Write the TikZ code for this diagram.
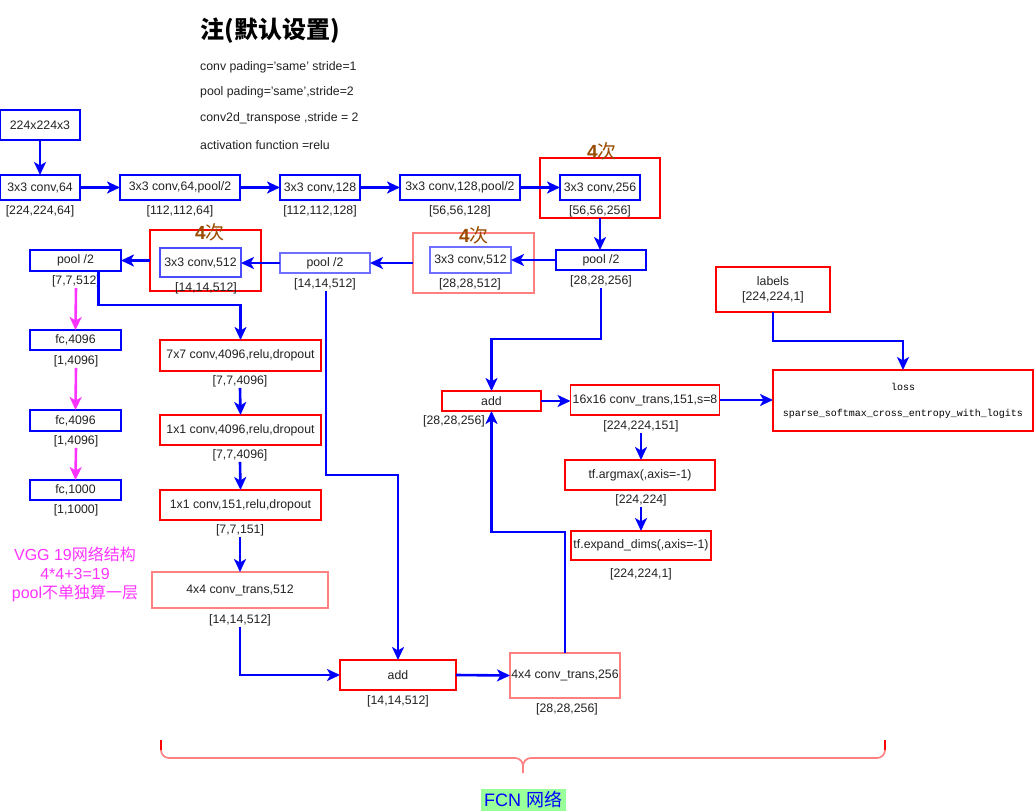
\documentclass[tikz,border=0pt]{standalone}
\usepackage{fontspec}
\setmainfont{Liberation Sans}
\setmonofont{Liberation Mono}
\newfontfamily\cjk{Noto Sans CJK SC}
\usetikzlibrary{arrows.meta,calc}
\definecolor{lred}{HTML}{FF8080}
\definecolor{lblue}{HTML}{6F6FFF}
\definecolor{txt}{HTML}{222222}
\definecolor{brown4}{HTML}{994C00}
\definecolor{mag}{HTML}{FF33FF}
\definecolor{fcnbg}{HTML}{99FF99}
\tikzset{
  box/.style={draw, line width=1.7pt, fill=white, inner sep=0pt, outer sep=0pt, text=txt, font=\fontsize{12.3}{14}\selectfont, align=center},
  bbox/.style={box, draw=blue},
  lbbox/.style={box, draw=lblue},
  rbox/.style={box, draw=red},
  lrbox/.style={box, draw=lred},
  grp/.style={draw, line width=1.7pt, inner sep=0pt, outer sep=0pt},
  lab/.style={text=txt, font=\fontsize{12.3}{14}\selectfont, inner sep=1pt},
  conn/.style={draw=blue, line width=2.6pt, -{Stealth[length=13pt,width=12pt,inset=3.5pt]}},
  mconn/.style={draw=mag, line width=2.6pt, -{Stealth[length=13pt,width=12pt,inset=3.5pt]}},
  times/.style={text=brown4, font=\fontsize{19}{21}\selectfont, inner sep=0pt},
  note/.style={anchor=west, text=txt, font=\fontsize{12.3}{14}\selectfont, inner sep=0pt},
}
\newcommand{\ci}{{\bfseries 4}{\cjk 次}}
\begin{document}
\begin{tikzpicture}[x=1pt,y=-1pt]
\useasboundingbox[fill=white] (0,0) rectangle (1034,811);

% title and notes
\node[text=black, font=\fontsize{24}{26}\selectfont\bfseries, inner sep=0pt] (title) at (270,31) {\cjk 注(默认设置)};
\node[note] (n1) at (200,67) {conv pading='same' stride=1};
\node[note] (n2) at (200,92) {pool pading='same',stride=2};
\node[note] (n3) at (200,118) {conv2d\_transpose ,stride = 2};
\node[note] (n4) at (200,145) {activation function =relu};

% groups
\node[grp, draw=red, minimum width=120, minimum height=60] (r1) at (600,188) {};
\node[times] (t1x) at (602,151) {\ci};
\node[grp, draw=lred, minimum width=121, minimum height=60] (r2) at (473.5,263) {};
\node[times] (t2x) at (474,235) {\ci};
\node[grp, draw=red, minimum width=111, minimum height=61] (r3) at (205.5,260.5) {};
\node[times] (t3x) at (210,232) {\ci};

% top row
\node[bbox, minimum width=80, minimum height=30] (in) at (40,125) {224x224x3};
\node[bbox, minimum width=80, minimum height=25] (c1) at (40,187.5) {3x3 conv,64};
\node[lab] (c1l) at (40,211) {[224,224,64]};
\node[bbox, minimum width=120, minimum height=25] (c2) at (180,187.5) {3x3 conv,64,pool/2};
\node[lab] (c2l) at (180,211) {[112,112,64]};
\node[bbox, minimum width=80, minimum height=25] (c3) at (320,187.5) {3x3 conv,128};
\node[lab] (c3l) at (320,211) {[112,112,128]};
\node[bbox, minimum width=120, minimum height=25] (c4) at (460,187.5) {3x3 conv,128,pool/2};
\node[lab] (c4l) at (460,211) {[56,56,128]};
\node[bbox, minimum width=80, minimum height=25] (c5) at (600,187.5) {3x3 conv,256};
\node[lab] (c5l) at (600,211) {[56,56,256]};

% second row
\node[bbox, minimum width=90, minimum height=20] (p1) at (601,260) {pool /2};
\node[lab] (p1l) at (601,281) {[28,28,256]};
\node[lbbox, minimum width=81, minimum height=26] (c6) at (470.5,260) {3x3 conv,512};
\node[lab] (c6l) at (470,284) {[28,28,512]};
\node[lbbox, minimum width=90, minimum height=20] (p2) at (325,263) {pool /2};
\node[lab] (p2l) at (325,284) {[14,14,512]};
\node[lbbox, draw=blue!70!white, line width=2.2pt, minimum width=81, minimum height=29] (c7) at (200.5,262.5) {3x3 conv,512};
\node[lab] (c7l) at (206,288) {[14,14,512]};
\node[bbox, minimum width=91, minimum height=21] (p3) at (75.5,260.5) {pool /2};
\node[lab] (p3l) at (76,281) {[7,7,512]};

% fc column
\node[bbox, minimum width=91, minimum height=20] (f1) at (75.5,340) {fc,4096};
\node[lab] (f1l) at (76,361) {[1,4096]};
\node[bbox, minimum width=91, minimum height=21] (f2) at (75.5,420.5) {fc,4096};
\node[lab] (f2l) at (76,441) {[1,4096]};
\node[bbox, minimum width=91, minimum height=20] (f3) at (75.5,490) {fc,1000};
\node[lab] (f3l) at (76,510) {[1,1000]};
\node[text=mag, font=\fontsize{16}{19}\selectfont, align=center, inner sep=0pt] (vgg) at (75,574)
  {VGG 19{\cjk 网络结构}\\4*4+3=19\\pool{\cjk 不单独算一层}};

% FCN column
\node[rbox, minimum width=161, minimum height=31] (v1) at (240.5,355.5) {7x7 conv,4096,relu,dropout};
\node[lab] (v1l) at (240,381) {[7,7,4096]};
\node[rbox, minimum width=161, minimum height=30] (v2) at (240.5,430) {1x1 conv,4096,relu,dropout};
\node[lab] (v2l) at (240,455) {[7,7,4096]};
\node[rbox, minimum width=161, minimum height=30] (v3) at (240.5,505) {1x1 conv,151,relu,dropout};
\node[lab] (v3l) at (240,530) {[7,7,151]};
\node[lrbox, minimum width=176, minimum height=36] (tr1) at (240,590) {4x4 conv\_trans,512};
\node[lab] (tr1l) at (240,620) {[14,14,512]};
\node[rbox, minimum width=116, minimum height=30] (a1) at (398,675) {add};
\node[lab] (a1l) at (398,701) {[14,14,512]};
\node[lrbox, minimum width=110, minimum height=45] (tr2) at (565,675.5) {4x4 conv\_trans,256};
\node[lab] (tr2l) at (567,709) {[28,28,256]};

% right part
\node[rbox, minimum width=99, minimum height=20] (a2) at (491.5,401) {add};
\node[lab] (a2l) at (454,421) {[28,28,256]};
\node[rbox, minimum width=149, minimum height=30] (u1) at (645,400) {16x16 conv\_trans,151,s=8};
\node[lab] (u1l) at (641,426) {[224,224,151]};
\node[rbox, minimum width=150, minimum height=30] (u2) at (640,475) {tf.argmax(,axis=-1)};
\node[lab] (u2l) at (641,500) {[224,224]};
\node[rbox, minimum width=140, minimum height=29] (u3) at (641,545.5) {tf.expand\_dims(,axis=-1)};
\node[lab] (u3l) at (641,574) {[224,224,1]};
\node[rbox, minimum width=114, minimum height=45, font=\fontsize{12.3}{15}\selectfont] (lb) at (773,289.5) {labels\\{}[224,224,1]};
\node[rbox, minimum width=260, minimum height=61, text=black, font=\ttfamily\fontsize{10}{12}\selectfont] (ls) at (903,400.5) {loss\\[14pt]sparse\_softmax\_cross\_entropy\_with\_logits};

% connectors
\draw[conn] (in.south) -- (c1.north);
\draw[conn] (c1.east) -- (c2.west);
\draw[conn] (c2.east) -- (c3.west);
\draw[conn] (c3.east) -- (c4.west);
\draw[conn] (c4.east) -- (c5.west);
\draw[conn] (r1.south -| c5) -- (p1.north -| c5);
\draw[conn] (p1.west) -- (p1.west -| c6.east);
\draw[conn] (r2.west) -- (r2.west -| p2.east);
\draw[conn] (p2.west) -- (p2.west -| c7.east);
\draw[conn] (r3.west) -- (r3.west -| p3.east);
\draw[mconn] (p3l.south) -- (f1.north);
\draw[mconn] (f1l.south) -- (f2.north);
\draw[mconn] (f2l.south) -- (f3.north);
\draw[conn] ($(p3.south west)!0.75!(p3.south east)$) -- ++(0,34) -| (v1.north);
\draw[conn] (v1l.south) -- (v2.north);
\draw[conn] (v2l.south) -- (v3.north);
\draw[conn] (v3l.south) -- (tr1.north);
\draw[conn] (tr1l.south) |- (a1.west);
\draw[conn] ($(p2l.south)+(1,0)$) -- ++(0,184) -| (a1.north);
\draw[conn] (a1.east) -- (tr2.west);
\draw[conn] (tr2.north) -- ++(0,-121) -| (a2.south);
\draw[conn] (p1l.south) -- ++(0,51) -| (a2.north);
\draw[conn] (a2.east) -- (a2.east -| u1.west);
\draw[conn] (u1l.south) -- (u1l.south |- u2.north);
\draw[conn] (u2l.south) -- (u2l.south |- u3.north);
\draw[conn] (u1.east) -- (u1.east -| ls.west);
\draw[conn] (lb.south) -- ++(0,29) -| (ls.north);

% brace
\coordinate (bl) at (161,740);
\coordinate (br) at (885,740);
\coordinate (bm) at (523,773);
\draw[lred, line width=1.7pt] (bl) -- ++(0,10) to[out=-90,in=180] ++(8,8) -- (515,758) to[out=0,in=90] (523,766) -- (bm);
\draw[lred, line width=1.7pt] (br) -- ++(0,10) to[out=-90,in=0] ++(-8,8) -- (531,758) to[out=180,in=90] (523,766);
\draw[red, line width=1.7pt] (br) -- ++(0,10);
\draw[red, line width=1.7pt] (bl) -- ++(0,10);
\node[fill=fcnbg, text=blue, font=\fontsize{18}{20}\selectfont, minimum width=85, minimum height=22, inner sep=0pt] (fcn) at (523,800) {FCN {\cjk 网络}};
\end{tikzpicture}
\end{document}
